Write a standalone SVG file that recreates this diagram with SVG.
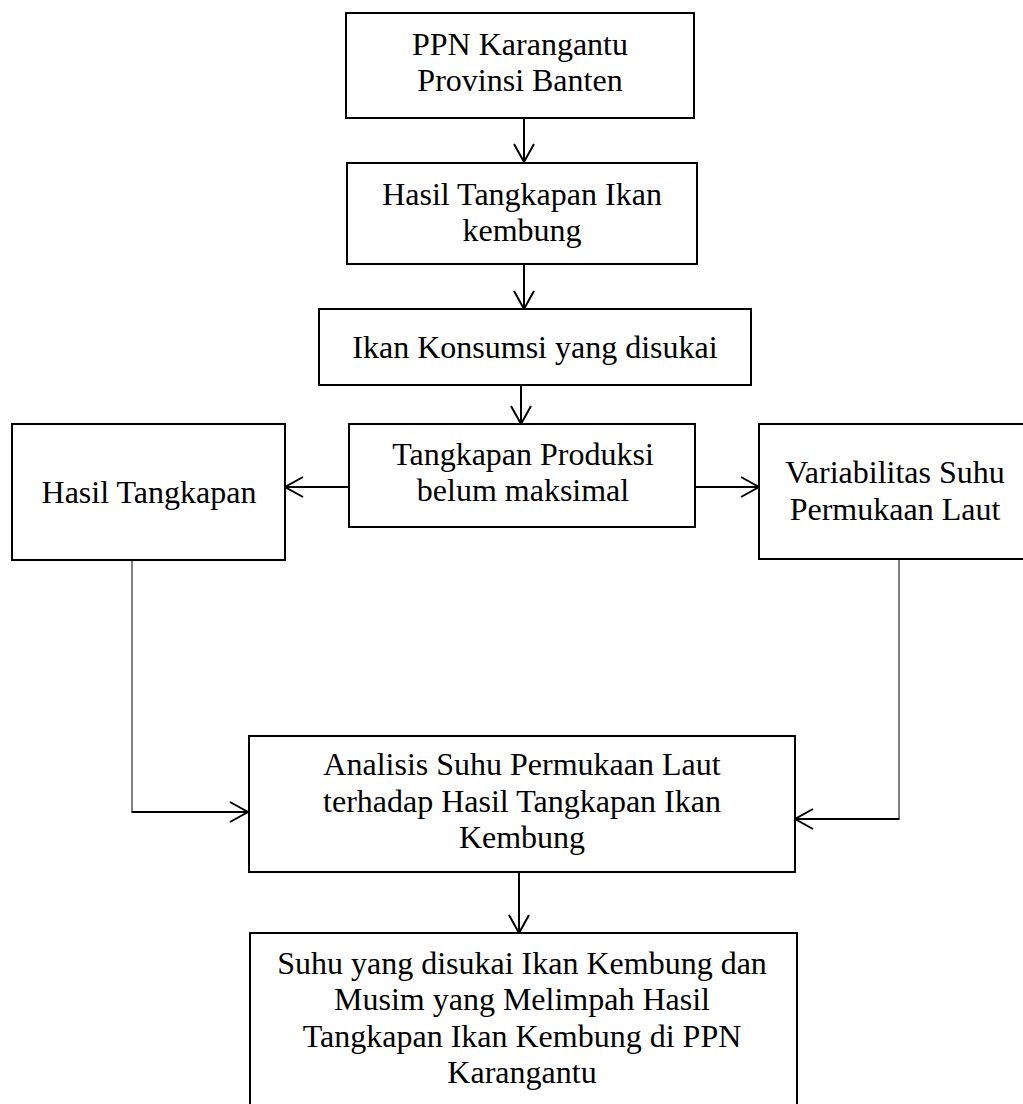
<svg xmlns="http://www.w3.org/2000/svg" width="1023" height="1104" viewBox="0 0 1023 1104">
<style>
.box{fill:#fff;stroke:#000;stroke-width:2}
.t{font-family:"Liberation Serif","Times New Roman",serif;font-size:32px;fill:#000;text-anchor:middle}
.c{fill:none;stroke:#000;stroke-width:2}
.thin{fill:none;stroke:#000;stroke-width:1}
</style>
<defs>
<marker id="ah" markerUnits="userSpaceOnUse" markerWidth="24" markerHeight="26" viewBox="0 0 24 26" refX="21" refY="13" orient="auto">
<path d="M3,3 L21,13 L3,23" fill="none" stroke="#000" stroke-width="2"/>
</marker>
</defs>
<rect width="1023" height="1104" fill="#fff"/>
<g id="connectors">
<line class="c" x1="524" y1="118" x2="524" y2="162" marker-end="url(#ah)"/>
<line class="c" x1="524" y1="264" x2="524" y2="309" marker-end="url(#ah)"/>
<line class="c" x1="521" y1="385" x2="521" y2="424" marker-end="url(#ah)"/>
<line class="c" x1="349" y1="487" x2="285" y2="487" marker-end="url(#ah)"/>
<line class="c" x1="695" y1="487" x2="759" y2="487" marker-end="url(#ah)"/>
<line class="thin" x1="132" y1="560" x2="132" y2="812"/>
<line class="c" x1="131.5" y1="812" x2="248" y2="812" marker-end="url(#ah)"/>
<line class="thin" x1="899" y1="559" x2="899" y2="819"/>
<line class="c" x1="899.5" y1="819" x2="795" y2="819" marker-end="url(#ah)"/>
<line class="c" x1="519" y1="872" x2="519" y2="933" marker-end="url(#ah)"/>
</g>
<g id="n1">
<rect class="box" x="346" y="13" width="348" height="105"/>
<text class="t" x="520" y="55">PPN Karangantu</text>
<text class="t" x="520" y="91">Provinsi Banten</text>
</g>
<g id="n2">
<rect class="box" x="347" y="163" width="350" height="101"/>
<text class="t" x="522" y="205">Hasil Tangkapan Ikan</text>
<text class="t" x="522" y="241">kembung</text>
</g>
<g id="n3">
<rect class="box" x="319" y="309" width="432" height="76"/>
<text class="t" x="535" y="358">Ikan Konsumsi yang disukai</text>
</g>
<g id="n4">
<rect class="box" x="349" y="424" width="346" height="103"/>
<text class="t" x="523" y="465">Tangkapan Produksi</text>
<text class="t" x="523" y="501">belum maksimal</text>
</g>
<g id="n5">
<rect class="box" x="12" y="424" width="273" height="136"/>
<text class="t" x="149" y="503">Hasil Tangkapan</text>
</g>
<g id="n6">
<rect class="box" x="759" y="424" width="272" height="135"/>
<text class="t" x="895" y="483">Variabilitas Suhu</text>
<text class="t" x="895" y="520">Permukaan Laut</text>
</g>
<g id="n7">
<rect class="box" x="249" y="736" width="546" height="136"/>
<text class="t" x="522" y="775">Analisis Suhu Permukaan Laut</text>
<text class="t" x="522" y="812">terhadap Hasil Tangkapan Ikan</text>
<text class="t" x="522" y="848">Kembung</text>
</g>
<g id="n8">
<rect class="box" x="250" y="933" width="547" height="180"/>
<text class="t" x="522" y="974">Suhu yang disukai Ikan Kembung dan</text>
<text class="t" x="522" y="1010">Musim yang Melimpah Hasil</text>
<text class="t" x="522" y="1047">Tangkapan Ikan Kembung di PPN</text>
<text class="t" x="522" y="1083">Karangantu</text>
</g>
</svg>
